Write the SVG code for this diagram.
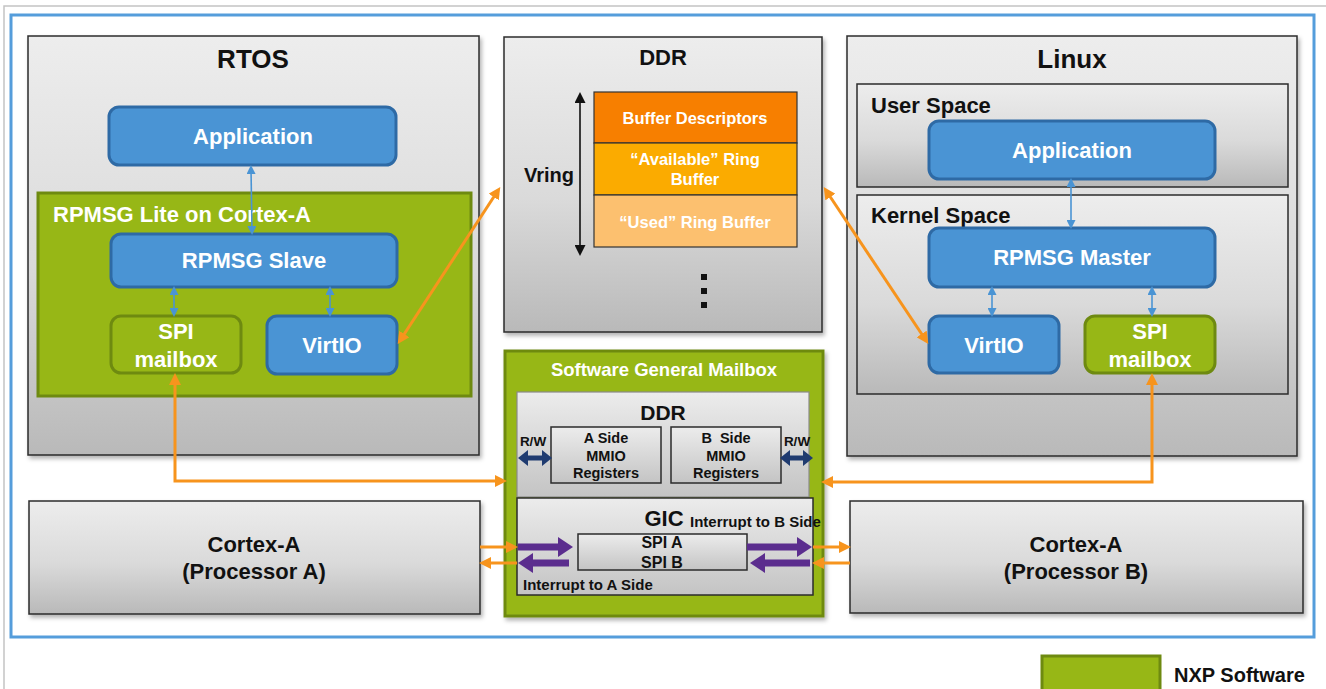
<svg xmlns="http://www.w3.org/2000/svg" width="1326" height="689" viewBox="0 0 1326 689">
<style>
text{font-family:"Liberation Sans",Arial,Helvetica,sans-serif;font-weight:bold}
.gray{fill:url(#gg);stroke:#2b2b2b;stroke-width:1.5}
.gray2{fill:url(#gg2);stroke:#2b2b2b;stroke-width:1.5}
.blue{fill:#4a94d4;stroke:#2e6aa5;stroke-width:3}
.green{fill:#97b716;stroke:#6e8a10;stroke-width:3}
.wt{fill:#ffffff}
.bk{fill:#111111}
.c{text-anchor:middle}
.ob{fill:none;stroke:#f7941d;stroke-width:3}
.bl{fill:none;stroke:#4a94d4;stroke-width:1.6}
.pu{fill:none;stroke:#5b2d8e;stroke-width:7}
.nv{fill:none;stroke:#1f3b70;stroke-width:5}
</style>
<defs>
<linearGradient id="gg" x1="0" y1="0" x2="0" y2="1">
<stop offset="0" stop-color="#ededed"/><stop offset="0.55" stop-color="#dadada"/><stop offset="1" stop-color="#b9b9b9"/>
</linearGradient>
<linearGradient id="gg2" x1="0" y1="0" x2="0" y2="1">
<stop offset="0" stop-color="#ececec"/><stop offset="1" stop-color="#c4c4c4"/>
</linearGradient>
<filter id="sh" x="-5%" y="-5%" width="112%" height="115%">
<feDropShadow dx="2" dy="3" stdDeviation="2" flood-color="#000" flood-opacity="0.3"/>
</filter>
<marker id="mo" viewBox="0 0 12 12" refX="6" refY="6" markerWidth="12" markerHeight="12" markerUnits="userSpaceOnUse" orient="auto-start-reverse"><path d="M0,0 L12,6 L0,12 z" fill="#f7941d"/></marker>
<marker id="mb" viewBox="0 0 9 9" refX="5" refY="4.5" markerWidth="9" markerHeight="9" markerUnits="userSpaceOnUse" orient="auto-start-reverse"><path d="M0,0 L9,4.5 L0,9 z" fill="#4a94d4"/></marker>
<marker id="mp" viewBox="0 0 15 20" refX="5" refY="10" markerWidth="15" markerHeight="20" markerUnits="userSpaceOnUse" orient="auto-start-reverse"><path d="M0,0 L15,10 L0,20 z" fill="#5b2d8e"/></marker>
<marker id="mn" viewBox="0 0 10 16" refX="4" refY="8" markerWidth="10" markerHeight="16" markerUnits="userSpaceOnUse" orient="auto-start-reverse"><path d="M0,0 L10,8 L0,16 z" fill="#1f3b70"/></marker>
<marker id="mk" viewBox="0 0 11 11" refX="6" refY="5.5" markerWidth="11" markerHeight="11" markerUnits="userSpaceOnUse" orient="auto-start-reverse"><path d="M0,0 L11,5.5 L0,11 z" fill="#111"/></marker>
</defs>
<rect width="1326" height="689" fill="#ffffff"/>
<path d="M4,689 L4,6 L1326,6" fill="none" stroke="#c4c4c4" stroke-width="1.5"/>
<rect x="11" y="15" width="1303" height="622" fill="none" stroke="#559ddb" stroke-width="3"/>

<g id="rtos">
<rect x="28" y="36" width="451" height="419" class="gray" filter="url(#sh)"/>
<text x="253" y="68" class="bk c" font-size="26">RTOS</text>
</g>
<g id="rtos-app">
<rect x="109" y="107" width="287" height="58" rx="10" class="blue"/>
<text x="253" y="144" class="wt c" font-size="22">Application</text>
</g>
<g id="rpmsg-lite">
<rect x="38" y="193" width="433" height="203" class="green"/>
<text x="53" y="222" class="wt" font-size="22">RPMSG Lite on Cortex-A</text>
</g>
<g id="rpmsg-slave">
<rect x="111" y="234" width="286" height="53" rx="10" class="blue"/>
<text x="254" y="268" class="wt c" font-size="22">RPMSG Slave</text>
</g>
<g id="rtos-spi">
<rect x="111" y="316" width="130" height="57" rx="10" class="green"/>
<text x="176" y="339" class="wt c" font-size="22">SPI</text>
<text x="176" y="367" class="wt c" font-size="22">mailbox</text>
</g>
<g id="rtos-virtio">
<rect x="267" y="316" width="130" height="58" rx="10" class="blue"/>
<text x="332" y="353" class="wt c" font-size="22">VirtIO</text>
</g>

<g id="ddr">
<rect x="504" y="37" width="318" height="295" class="gray" filter="url(#sh)"/>
<text x="663" y="65" class="bk c" font-size="22">DDR</text>
<text x="574" y="182" class="bk" font-size="20" text-anchor="end">Vring</text>
<rect x="701" y="274" width="6" height="6" fill="#111"/>
<rect x="701" y="288" width="6" height="6" fill="#111"/>
<rect x="701" y="302" width="6" height="6" fill="#111"/>
</g>
<g id="buffer-descriptors">
<rect x="594" y="92" width="203" height="51" fill="#f77f00" stroke="#333" stroke-width="1.2"/>
<text x="695" y="124" class="wt c" font-size="16.5">Buffer Descriptors</text>
</g>
<g id="available-ring">
<rect x="594" y="143" width="203" height="52" fill="#fbab00" stroke="#333" stroke-width="1.2"/>
<text x="695" y="165" class="wt c" font-size="16.5">“Available” Ring</text>
<text x="695" y="185" class="wt c" font-size="16.5">Buffer</text>
</g>
<g id="used-ring">
<rect x="594" y="195" width="203" height="52" fill="#fcc06f" stroke="#333" stroke-width="1.2"/>
<text x="695" y="228" class="wt c" font-size="16.5">“Used” Ring Buffer</text>
</g>

<g id="linux">
<rect x="847" y="36" width="450" height="420" class="gray" filter="url(#sh)"/>
<text x="1072" y="68" class="bk c" font-size="26">Linux</text>
</g>
<g id="user-space">
<rect x="857" y="84" width="431" height="103" class="gray"/>
<text x="871" y="113" class="bk" font-size="22">User Space</text>
</g>
<g id="linux-app">
<rect x="929" y="121" width="286" height="58" rx="10" class="blue"/>
<text x="1072" y="158" class="wt c" font-size="22">Application</text>
</g>
<g id="kernel-space">
<rect x="857" y="195" width="431" height="199" class="gray"/>
<text x="871" y="223" class="bk" font-size="22">Kernel Space</text>
</g>
<g id="rpmsg-master">
<rect x="929" y="228" width="286" height="59" rx="10" class="blue"/>
<text x="1072" y="265" class="wt c" font-size="22">RPMSG Master</text>
</g>
<g id="linux-virtio">
<rect x="929" y="316" width="130" height="57" rx="10" class="blue"/>
<text x="994" y="353" class="wt c" font-size="22">VirtIO</text>
</g>
<g id="linux-spi">
<rect x="1085" y="316" width="130" height="57" rx="10" class="green"/>
<text x="1150" y="339" class="wt c" font-size="22">SPI</text>
<text x="1150" y="367" class="wt c" font-size="22">mailbox</text>
</g>

<g id="mailbox">
<rect x="505" y="351" width="318" height="265" class="green" filter="url(#sh)"/>
<text x="664" y="376" class="wt c" font-size="18.5">Software General Mailbox</text>
</g>
<g id="mailbox-ddr">
<rect x="517" y="392" width="292" height="105" fill="url(#gg2)" stroke="#8a8a8a" stroke-width="1.2"/>
<text x="663" y="420" class="bk c" font-size="21">DDR</text>
<text x="533" y="446" class="bk c" font-size="13.5">R/W</text>
<text x="797" y="446" class="bk c" font-size="13.5">R/W</text>
</g>
<g id="a-side">
<rect x="551" y="427" width="110" height="56" class="gray2"/>
<text x="606" y="443" class="bk c" font-size="14.5">A Side</text>
<text x="606" y="461" class="bk c" font-size="14.5">MMIO</text>
<text x="606" y="478" class="bk c" font-size="14.5">Registers</text>
</g>
<g id="b-side">
<rect x="671" y="427" width="110" height="56" class="gray2"/>
<text x="726" y="443" class="bk c" font-size="14.5" xml:space="preserve">B  Side</text>
<text x="726" y="461" class="bk c" font-size="14.5">MMIO</text>
<text x="726" y="478" class="bk c" font-size="14.5">Registers</text>
</g>
<g id="gic">
<rect x="517" y="498" width="296" height="97" fill="url(#gg2)" stroke="#2b2b2b" stroke-width="1.5"/>
<text x="664" y="526" class="bk c" font-size="22">GIC</text>
<text x="690" y="527" class="bk" font-size="15">Interrupt to B Side</text>
<text x="523" y="590" class="bk" font-size="15">Interrupt to A Side</text>
</g>
<g id="spi-ab">
<rect x="578" y="534" width="169" height="36" class="gray2"/>
<text x="662" y="548" class="bk c" font-size="16">SPI A</text>
<text x="662" y="568" class="bk c" font-size="16">SPI B</text>
</g>

<g id="cortex-a">
<rect x="29" y="501" width="451" height="113" class="gray" filter="url(#sh)"/>
<text x="254" y="552" class="bk c" font-size="22">Cortex-A</text>
<text x="254" y="579" class="bk c" font-size="22">(Processor A)</text>
</g>
<g id="cortex-b">
<rect x="850" y="501" width="453" height="112" class="gray" filter="url(#sh)"/>
<text x="1076" y="552" class="bk c" font-size="22">Cortex-A</text>
<text x="1076" y="579" class="bk c" font-size="22">(Processor B)</text>
</g>

<g id="legend">
<rect x="1042" y="656" width="118" height="40" class="green"/>
<text x="1174" y="682" class="bk" font-size="20">NXP Software</text>
</g>

<g id="connectors">
<path d="M580,97 L580,251" fill="none" stroke="#111" stroke-width="1.6" marker-start="url(#mk)" marker-end="url(#mk)"/>
<path d="M251,169 L252,231" class="bl" marker-start="url(#mb)" marker-end="url(#mb)"/>
<path d="M174,290 L174,313" class="bl" marker-start="url(#mb)" marker-end="url(#mb)"/>
<path d="M330,290 L330,313" class="bl" marker-start="url(#mb)" marker-end="url(#mb)"/>
<path d="M1071,182 L1071,225" class="bl" marker-start="url(#mb)" marker-end="url(#mb)"/>
<path d="M992,290 L992,313" class="bl" marker-start="url(#mb)" marker-end="url(#mb)"/>
<path d="M1152,290 L1152,313" class="bl" marker-start="url(#mb)" marker-end="url(#mb)"/>
<path d="M401,339 L497,192" class="ob" marker-start="url(#mo)" marker-end="url(#mo)"/>
<path d="M827,192 L925,339" class="ob" marker-start="url(#mo)" marker-end="url(#mo)"/>
<path d="M175,379 L175,481 L501,481" class="ob" marker-start="url(#mo)" marker-end="url(#mo)"/>
<path d="M1152,379 L1152,482 L827,482" class="ob" marker-start="url(#mo)" marker-end="url(#mo)"/>
<path d="M480,547 L512,547" class="ob" marker-end="url(#mo)"/>
<path d="M517,563 L485,563" class="ob" marker-end="url(#mo)"/>
<path d="M813,547 L845,547" class="ob" marker-end="url(#mo)"/>
<path d="M850,563 L818,563" class="ob" marker-end="url(#mo)"/>
<path d="M518,547 L563,547" class="pu" marker-end="url(#mp)"/>
<path d="M569,563 L528,563" class="pu" marker-end="url(#mp)"/>
<path d="M747,547 L802,547" class="pu" marker-end="url(#mp)"/>
<path d="M810,563 L760,563" class="pu" marker-end="url(#mp)"/>
<path d="M524,458 L546,458" class="nv" marker-start="url(#mn)" marker-end="url(#mn)"/>
<path d="M786,458 L807,458" class="nv" marker-start="url(#mn)" marker-end="url(#mn)"/>
</g>
</svg>
